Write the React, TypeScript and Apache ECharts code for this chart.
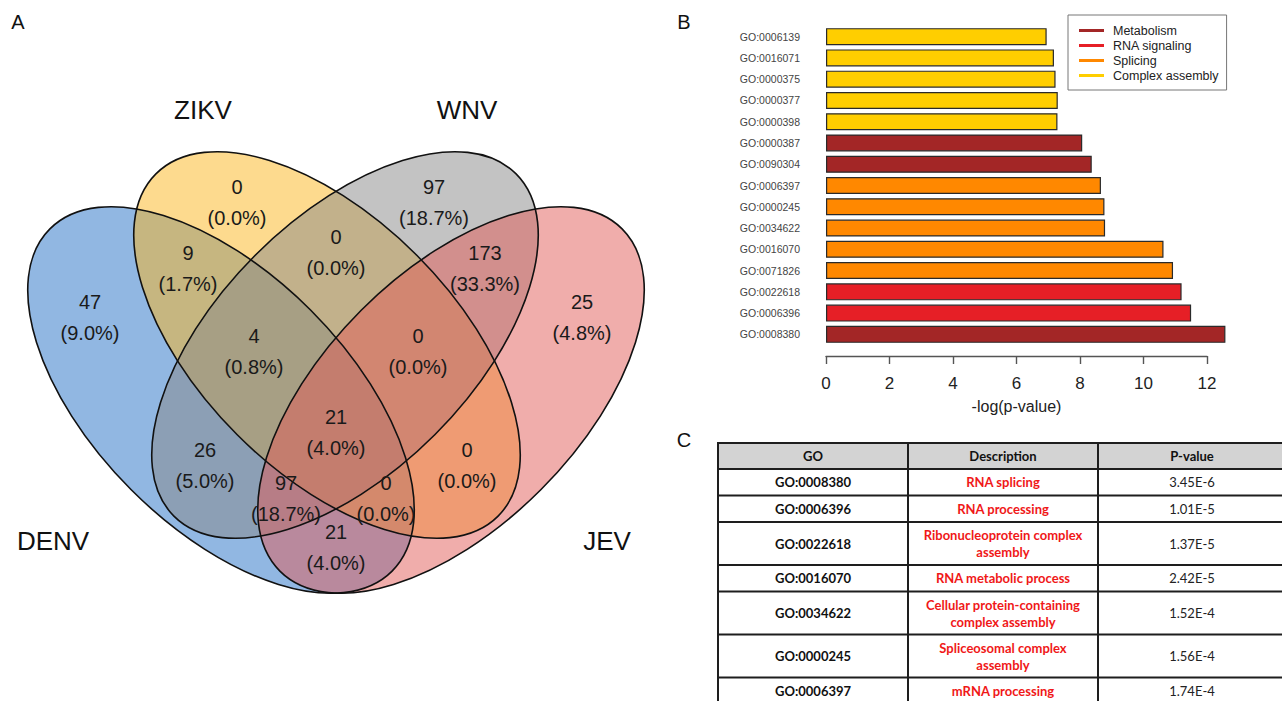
import React, { useEffect, useRef } from "react";
import * as echarts from "echarts";

// ---------- Panel A: Venn data ----------
const vennSets = ["DENV", "ZIKV", "WNV", "JEV"];
const vennSetColors = ["#236FC5", "#FBB51D", "#878787", "#E15B57"];
// regions: ZIKV only, WNV only, DENV only, DENV∩ZIKV, ZIKV∩WNV, WNV∩JEV, JEV only,
// DENV∩ZIKV∩WNV, ZIKV∩WNV∩JEV, all four, DENV∩WNV, ZIKV∩JEV, DENV∩WNV∩JEV, DENV∩ZIKV∩JEV, DENV∩JEV
const regionCounts = [0, 97, 47, 9, 0, 173, 25, 4, 0, 21, 26, 0, 97, 0, 21];
const regionPercents = ["0.0", "18.7", "9.0", "1.7", "0.0", "33.3", "4.8", "0.8", "0.0", "4.0", "5.0", "0.0", "18.7", "0.0", "4.0"];

// ---------- Panel B: bar data ----------
const goTerms = [
  "GO:0006139", "GO:0016071", "GO:0000375", "GO:0000377", "GO:0000398",
  "GO:0000387", "GO:0090304", "GO:0006397", "GO:0000245", "GO:0034622",
  "GO:0016070", "GO:0071826", "GO:0022618", "GO:0006396", "GO:0008380",
];
const goValues = [6.95, 7.18, 7.23, 7.3, 7.29, 8.07, 8.37, 8.66, 8.77, 8.79, 10.63, 10.93, 11.2, 11.5, 12.58];
const goGroup = [
  "Complex assembly", "Complex assembly", "Complex assembly", "Complex assembly", "Complex assembly",
  "Metabolism", "Metabolism", "Splicing", "Splicing", "Splicing",
  "Splicing", "Splicing", "RNA signaling", "RNA signaling", "Metabolism",
];
const groupNames = ["Metabolism", "RNA signaling", "Splicing", "Complex assembly"];
const groupColors = ["#A32626", "#E61F26", "#FF8800", "#FFCE00"];

// ---------- Panel C: table data ----------
const tableHeader = ["GO", "Description", "P-value"];
const tableGO = ["GO:0008380", "GO:0006396", "GO:0022618", "GO:0016070", "GO:0034622", "GO:0000245", "GO:0006397"];
const tableDesc = [
  "RNA splicing",
  "RNA processing",
  "Ribonucleoprotein complex\nassembly",
  "RNA metabolic process",
  "Cellular protein-containing\ncomplex assembly",
  "Spliceosomal complex\nassembly",
  "mRNA processing",
];
const tablePval = ["3.45E-6", "1.01E-5", "1.37E-5", "2.42E-5", "1.52E-4", "1.56E-4", "1.74E-4"];

// ---------- layout (positions, not data) ----------
const ELL_RX = 242;
const ELL_RY = 127;
const ellipseLayout = [
  { cx: 221, cy: 400, rot: -Math.PI / 4 },
  { cx: 327, cy: 345, rot: -Math.PI / 4 },
  { cx: 345, cy: 345, rot: Math.PI / 4 },
  { cx: 451, cy: 400, rot: Math.PI / 4 },
];
const setLabelPos = [
  [53, 541],
  [203, 110],
  [467, 110],
  [607, 541],
];
const regionLabelPos = [
  [237, 202], [434, 202], [90, 317], [188, 268], [336, 252], [485, 268], [582, 317],
  [254, 351], [418, 351], [336, 432], [205, 465], [467, 465], [286, 498], [386, 498], [336, 547],
];

const FONT = "Liberation Sans, Arial, sans-serif";
const TFONT = "Lato, Open Sans, sans-serif";

function buildGraphic() {
  const els: any[] = [];
  // panel letters
  [["A", 18, 22], ["B", 684, 22], ["C", 684, 440]].forEach(([t, x, y]) => {
    els.push({
      type: "text", x, y,
      style: { text: t, fontSize: 20, fontFamily: FONT, fill: "#111", align: "center", verticalAlign: "middle" },
    });
  });
  // venn fills
  ellipseLayout.forEach((e, i) => {
    els.push({
      type: "ellipse", x: e.cx, y: e.cy, rotation: e.rot,
      shape: { cx: 0, cy: 0, rx: ELL_RX, ry: ELL_RY },
      style: { fill: vennSetColors[i], opacity: 0.5 },
      z: 1,
    });
  });
  // venn outlines
  ellipseLayout.forEach((e) => {
    els.push({
      type: "ellipse", x: e.cx, y: e.cy, rotation: e.rot,
      shape: { cx: 0, cy: 0, rx: ELL_RX, ry: ELL_RY },
      style: { fill: "none", stroke: "#111", lineWidth: 1.6 },
      z: 2,
    });
  });
  // region labels
  regionCounts.forEach((c, i) => {
    const [x, y] = regionLabelPos[i];
    els.push({
      type: "text", x, y, z: 3,
      style: {
        text: `${c}\n(${regionPercents[i]}%)`,
        fontSize: 20, fontFamily: FONT, fill: "#1a1a1a",
        align: "center", verticalAlign: "middle", lineHeight: 31,
      },
    });
  });
  // set labels
  vennSets.forEach((s, i) => {
    const [x, y] = setLabelPos[i];
    els.push({
      type: "text", x, y, z: 3,
      style: { text: s, fontSize: 26, fontFamily: FONT, fill: "#111", align: "center", verticalAlign: "middle" },
    });
  });

  // table
  const colX = [718, 908, 1098, 1292];
  const rowH = tableDesc.map((d) => (d.includes("\n") ? 43 : 26.5));
  const top = 443;
  const headH = 26;
  const bounds = [top, top + headH];
  rowH.forEach((h) => bounds.push(bounds[bounds.length - 1] + h));
  els.push({
    type: "rect", shape: { x: colX[0], y: top, width: colX[3] - colX[0], height: headH },
    style: { fill: "#D3D3D3" }, z: 1,
  });
  bounds.forEach((b) => {
    els.push({
      type: "line", shape: { x1: colX[0] - 1, y1: b, x2: colX[3], y2: b },
      style: { stroke: "#1e1e1e", lineWidth: 2 }, z: 2,
    });
  });
  colX.slice(0, 3).forEach((x) => {
    els.push({
      type: "line", shape: { x1: x, y1: top, x2: x, y2: 710 },
      style: { stroke: "#1e1e1e", lineWidth: 2 }, z: 2,
    });
  });
  const colC = [813, 1003, 1192];
  tableHeader.forEach((h, j) => {
    els.push({
      type: "text", x: colC[j], y: top + headH / 2, z: 3,
      style: { text: h, fontSize: 13, fontWeight: "bold", fontFamily: TFONT, fill: "#111", align: "center", verticalAlign: "middle" },
    });
  });
  tableGO.forEach((g, i) => {
    const yc = (bounds[i + 1] + bounds[i + 2]) / 2;
    els.push({
      type: "text", x: colC[0], y: yc, z: 3,
      style: { text: g, fontSize: 13, fontWeight: "bold", fontFamily: TFONT, fill: "#111", align: "center", verticalAlign: "middle" },
    });
    els.push({
      type: "text", x: colC[1], y: yc, z: 3,
      style: { text: tableDesc[i], fontSize: 13, fontWeight: "bold", fontFamily: TFONT, fill: "#F01818", align: "center", verticalAlign: "middle", lineHeight: 17 },
    });
    els.push({
      type: "text", x: colC[2], y: yc, z: 3,
      style: { text: tablePval[i], fontSize: 13, fontFamily: TFONT, fill: "#222", align: "center", verticalAlign: "middle" },
    });
  });
  return els;
}

function buildOption() {
  const series = groupNames.map((g, k) => ({
    name: g,
    type: "bar",
    stack: "all",
    xAxisIndex: 0,
    yAxisIndex: 0,
    barWidth: 17,
    data: goValues.map((v, i) => (goGroup[i] === g ? v : "-")),
    itemStyle: { color: groupColors[k], borderColor: "#2a2a2a", borderWidth: 1.2 },
  }));
  return {
    animation: false,
    backgroundColor: "#ffffff",
    textStyle: { fontFamily: FONT },
    legend: {
      data: groupNames,
      orient: "vertical",
      left: 1068,
      top: 15,
      icon: "rect",
      itemWidth: 25,
      itemHeight: 3,
      itemGap: 2,
      padding: [9, 8, 8, 11],
      borderColor: "#777",
      borderWidth: 1,
      itemStyle: { borderWidth: 0 },
      textStyle: { fontSize: 12.5, color: "#222", fontFamily: FONT, padding: [0, 0, 0, 4] },
      selectedMode: false,
    },
    grid: [
      { left: 826, top: 26, width: 13 * 31.75, height: 319 },
      { left: 826, top: 355, width: 12 * 31.75, height: 1 },
    ],
    xAxis: [
      { gridIndex: 0, type: "value", min: 0, max: 13, show: false },
      {
        gridIndex: 1, type: "value", min: 0, max: 12, interval: 2,
        axisLine: { show: true, lineStyle: { color: "#555", width: 1.4 } },
        axisTick: { show: true, length: 8, lineStyle: { color: "#555", width: 1.4 } },
        axisLabel: { fontSize: 17, color: "#222", margin: 19, fontFamily: FONT },
        splitLine: { show: false },
        name: "-log(p-value)",
        nameLocation: "middle",
        nameGap: 42,
        nameTextStyle: { fontSize: 16, color: "#222", fontFamily: FONT },
      },
    ],
    yAxis: [
      {
        gridIndex: 0, type: "category", data: goTerms, inverse: true,
        axisLine: { show: false }, axisTick: { show: false },
        axisLabel: { fontSize: 10.5, color: "#444", margin: 26, fontFamily: FONT },
      },
      { gridIndex: 1, type: "value", show: false, min: 0, max: 1 },
    ],
    series,
    graphic: { elements: buildGraphic() },
  };
}

export default function App() {
  const ref = useRef<HTMLDivElement>(null);
  useEffect(() => {
    if (!ref.current) return;
    const chart = echarts.init(ref.current, null, { renderer: "svg" });
    chart.setOption(buildOption() as any);
    return () => chart.dispose();
  }, []);
  return (
    <div
      ref={ref}
      style={{ position: "absolute", left: 0, top: 0, width: 1282, height: 701, background: "#fff", overflow: "hidden" }}
    />
  );
}
